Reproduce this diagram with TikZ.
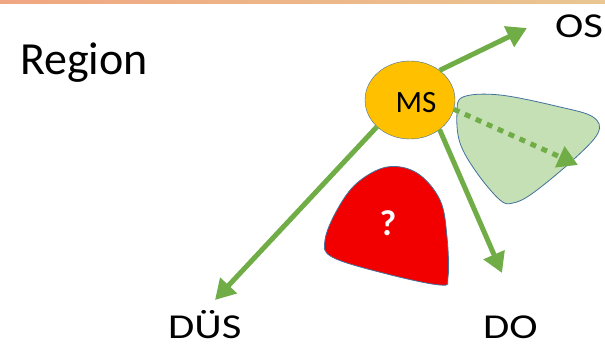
\documentclass[tikz,border=0pt]{standalone}
\usepackage{fontspec}
\setmainfont{Carlito}
\newfontfamily\widefont[FakeStretch=1.22]{Carlito}
\usetikzlibrary{shapes.geometric,arrows.meta,positioning}
\definecolor{flowgreen}{HTML}{70AD47}
\definecolor{msyellow}{HTML}{FFC000}
\definecolor{blobblue}{HTML}{41719C}
\definecolor{blobgreen}{HTML}{C5E0B4}
\definecolor{blobred}{HTML}{F20000}
\definecolor{barleft}{HTML}{F0A682}
\definecolor{barright}{HTML}{E9C692}
\tikzset
{
    flow/.style     = {draw=flowgreen, line width=5pt, ->},
    hintflow/.style = {flow, dash pattern=on 6pt off 6pt},
    citynode/.style = {ellipse, draw=blobblue, fill=msyellow, minimum width=90pt, minimum height=78pt, inner sep=0pt},
    placename/.style= {anchor=base west, inner sep=0pt, font=\widefont\fontsize{35}{35}\selectfont},
    blob/.style     = {draw=blobblue, line width=0.8pt}
}
\begin{document}
\begin{tikzpicture}[x=1pt, y=-1pt, >={Triangle[length=20pt,width=22pt]}]
    \useasboundingbox (0,0) rectangle (605,347);
    \shade [left color=barleft, right color=barright] (0,0) rectangle (605,4);
    \node [anchor=base west, inner sep=0pt, font=\fontsize{46}{46}\selectfont] (region) at (20,75) {Region};
    \draw [blob, fill=blobgreen] plot [smooth cycle, tension=0.6] coordinates
        {(463,97) (500,95) (560,107) (593,117) (598,133) (573,160) (533,193) (513,203) (500,200) (477,173) (460,143) (457,113)};
    \draw [blob, fill=blobred] plot [smooth cycle, tension=0.6] coordinates
        {(387,167) (357,183) (337,210) (325,240) (332,257) (383,273) (440,285) (448,277) (447,237) (440,200) (417,173)};
    \node [text=white, font=\bfseries\fontsize{36}{36}\selectfont] (unknown) at (388,223) {?};
    \node [citynode] (ms) at (410,100) {};
    \node [font=\fontsize{31}{31}\selectfont] (mslabel) at (416,103) {MS};
    \node [placename] (os) at (555,38) {OS};
    \node [placename] (dus) at (168,338) {DÜS};
    \node [placename] (do) at (483,338) {DO};
    \coordinate (ostip) at (527,28);
    \coordinate (dustip) at (215,300);
    \coordinate (dotip) at (502,273);
    \coordinate (hinttip) at (578,165);
    \draw [flow] (ms.45) -- (ostip);
    \draw [flow] (ms.219) -- (dustip);
    \draw [flow] (ms.-45) -- (dotip);
    \draw [hintflow] (ms.-12) -- (hinttip);
\end{tikzpicture}
\end{document}
